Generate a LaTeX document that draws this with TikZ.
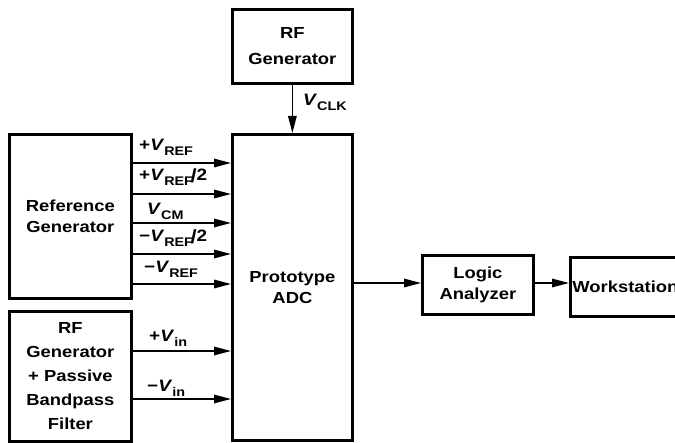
\documentclass[tikz,border=0pt]{standalone}
\usepackage{fontspec}
\setmainfont{Liberation Sans}[FakeStretch=1.15]
\usetikzlibrary{arrows.meta}
\newcommand{\subx}[1]{\raisebox{-4.5pt}{\fontsize{12.5}{12.5}\selectfont #1}}
\newcommand{\halfx}{\kern-2.5pt\raisebox{-1.5pt}{\fontsize{19}{19}\selectfont/}2}
\begin{document}
\begin{tikzpicture}[x=1pt,y=-1pt,
  box/.style={draw, line width=2.8pt, align=center, inner sep=1pt,
    font=\fontsize{16}{21.5}\selectfont\bfseries},
  arr/.style={line width=1.5pt, -{Triangle[length=17pt,width=8.5pt]}},
  lbl/.style={inner sep=0pt, font=\fontsize{16.5}{16.5}\selectfont\bfseries}]
\useasboundingbox (0,0) rectangle (675,443);
% boxes
\node[box, minimum width=120pt, minimum height=74pt, anchor=north west,
  font=\fontsize{16}{26}\selectfont\bfseries] (rf) at (231,8)
  {RF\\Generator};
\node[box, minimum width=120pt, minimum height=306pt, anchor=north west] (adc) at (231,133)
  {Prototype\\ADC};
\node[box, minimum width=122pt, minimum height=164pt, anchor=north west] (ref) at (8,133)
  {Reference\\Generator};
\node[box, minimum width=122pt, minimum height=130pt, anchor=north west,
  font=\fontsize{16}{24}\selectfont\bfseries] (rfb) at (8,310)
  {RF\\Generator\\+ Passive\\Bandpass\\Filter};
\node[box, minimum width=111pt, minimum height=59pt, anchor=north west] (la) at (421,254)
  {Logic\\Analyzer};
\node[box, minimum height=59pt, anchor=north west, inner xsep=2pt] (ws) at (569,256)
  {Workstation};
% rows
\coordinate (r1) at (0,163);
\coordinate (r2) at (0,194);
\coordinate (r3) at (0,223);
\coordinate (r4) at (0,254);
\coordinate (r5) at (0,284);
\coordinate (i1) at (0,351);
\coordinate (i2) at (0,399);
\coordinate (o1) at (0,283);
% arrows
\draw[arr] (rf.south) -- (rf.south |- adc.north);
\draw[arr] (ref.east |- r1) -- (adc.west |- r1);
\draw[arr] (ref.east |- r2) -- (adc.west |- r2);
\draw[arr] (ref.east |- r3) -- (adc.west |- r3);
\draw[arr] (ref.east |- r4) -- (adc.west |- r4);
\draw[arr] (ref.east |- r5) -- (adc.west |- r5);
\draw[arr] (rfb.east |- i1) -- (adc.west |- i1);
\draw[arr] (rfb.east |- i2) -- (adc.west |- i2);
\draw[arr] (adc.east |- o1) -- (la.west |- o1);
\draw[arr] (la.east |- o1) -- (ws.west |- o1);
% labels
\node[lbl, anchor=base west] (lclk) at (303,106) {\textit{V}\subx{CLK}};
\node[lbl, anchor=base west] (l1) at (139,151) {+\textit{V}\subx{REF}};
\node[lbl, anchor=base west] (l2) at (139,181) {+\textit{V}\subx{REF}\halfx};
\node[lbl, anchor=base west] (l3) at (147,215) {\textit{V}\subx{CM}};
\node[lbl, anchor=base west] (l4) at (139,242) {−\textit{V}\subx{REF}\halfx};
\node[lbl, anchor=base west] (l5) at (144,273) {−\textit{V}\subx{REF}};
\node[lbl, anchor=base west] (l6) at (149,342) {+\textit{V}\subx{in}};
\node[lbl, anchor=base west] (l7) at (147,392) {−\textit{V}\subx{in}};
\end{tikzpicture}
\end{document}
